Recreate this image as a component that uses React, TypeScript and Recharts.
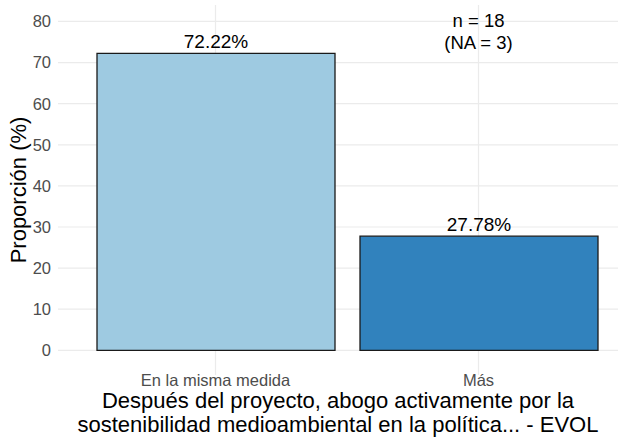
import * as React from "react";
import { BarChart, Bar, XAxis, YAxis, CartesianGrid, Cell, LabelList, ReferenceDot } from "recharts";

const categories = ["En la misma medida", "Más"];
const proportions = [72.22, 27.78];
const yTicks = [0, 10, 20, 30, 40, 50, 60, 70, 80];
const sampleNote = ["n = 18", "(NA = 3)"];
const xTitle = [
  "Después del proyecto, abogo activamente por la",
  "sostenibilidad medioambiental en la política... - EVOL",
];
const yTitle = "Proporción (%)";

const BAR_COLORS = ["#9ecae1", "#3182bd"];
const FONT = "'Liberation Sans', Arial, sans-serif";
const Y_DOMAIN: [number, number] = [-6, 84];
const X_PAD = { left: 26, right: 8 };

const data = categories.map((c, i) => ({ category: c, value: proportions[i] }));

// grid only at the tick positions (no lines on the panel edges)
const hGrid = (p: any) => {
  const off = p.offset;
  const [lo, hi] = Y_DOMAIN;
  return yTicks.map((t) => off.top + ((hi - t) / (hi - lo)) * off.height);
};
const vGrid = (p: any) => {
  const off = p.offset;
  const bw = (off.width - X_PAD.left - X_PAD.right) / categories.length;
  return categories.map((_, i) => off.left + X_PAD.left + bw * (i + 0.5));
};

const XTitle = (props: any) => {
  const { viewBox } = props;
  const cx = viewBox.x + viewBox.width / 2;
  return (
    <text x={cx} y={viewBox.y + 33} textAnchor="middle" fontSize={22} fill="#000" fontFamily={FONT}>
      {xTitle.map((line, i) => (
        <tspan key={i} x={cx} dy={i === 0 ? 0 : 24}>
          {line}
        </tspan>
      ))}
    </text>
  );
};

const YTitle = (props: any) => {
  const { viewBox } = props;
  const cx = 18;
  const cy = viewBox.y + viewBox.height / 2;
  return (
    <text
      x={cx}
      y={cy}
      textAnchor="middle"
      dominantBaseline="central"
      transform={`rotate(-90, ${cx}, ${cy})`}
      fontSize={22}
      fill="#000"
      fontFamily={FONT}
    >
      {yTitle}
    </text>
  );
};

const NoteLabel = (props: any) => {
  const { viewBox } = props;
  const cx = viewBox.cx ?? viewBox.x;
  const cy = viewBox.cy ?? viewBox.y;
  return (
    <text x={cx} y={cy + 6} textAnchor="middle" fontSize={18.5} fill="#000" fontFamily={FONT}>
      {sampleNote.map((line, i) => (
        <tspan key={i} x={cx} dy={i === 0 ? 0 : 22}>
          {line}
        </tspan>
      ))}
    </text>
  );
};

export default function App() {
  return (
    <div style={{ position: "fixed", left: 0, top: 0, background: "#fff" }}>
      <BarChart
        width={618}
        height={439}
        data={data}
        margin={{ top: 5, right: 0, bottom: 0, left: 0 }}
        style={{ fontFamily: FONT }}
      >
        <CartesianGrid
          stroke="#ebebeb"
          strokeWidth={1.2}
          horizontalCoordinatesGenerator={hGrid}
          verticalCoordinatesGenerator={vGrid}
        />
        <XAxis
          dataKey="category"
          height={64}
          axisLine={false}
          tickLine={false}
          tickSize={0}
          tickMargin={-1}
          padding={X_PAD}
          tick={{ fontSize: 16.5, fill: "#4d4d4d" }}
          label={<XTitle />}
        />
        <YAxis
          type="number"
          domain={Y_DOMAIN}
          ticks={yTicks}
          width={58}
          axisLine={false}
          tickLine={false}
          tickSize={0}
          tickMargin={7}
          tick={{ fontSize: 16.5, fill: "#4d4d4d" }}
          label={<YTitle />}
        />
        <Bar dataKey="value" barSize={238} stroke="#1a1a1a" strokeWidth={1.3} isAnimationActive={false}>
          {data.map((d, i) => (
            <Cell key={d.category} fill={BAR_COLORS[i]} />
          ))}
          <LabelList
            dataKey="value"
            position="top"
            offset={5}
            formatter={(v: any) => `${Number(v).toFixed(2)}%`}
            style={{ fontSize: 19, fill: "#000", fontFamily: FONT }}
          />
        </Bar>
        <ReferenceDot x={categories[1]} y={80} r={0} stroke="none" label={<NoteLabel />} />
      </BarChart>
    </div>
  );
}
